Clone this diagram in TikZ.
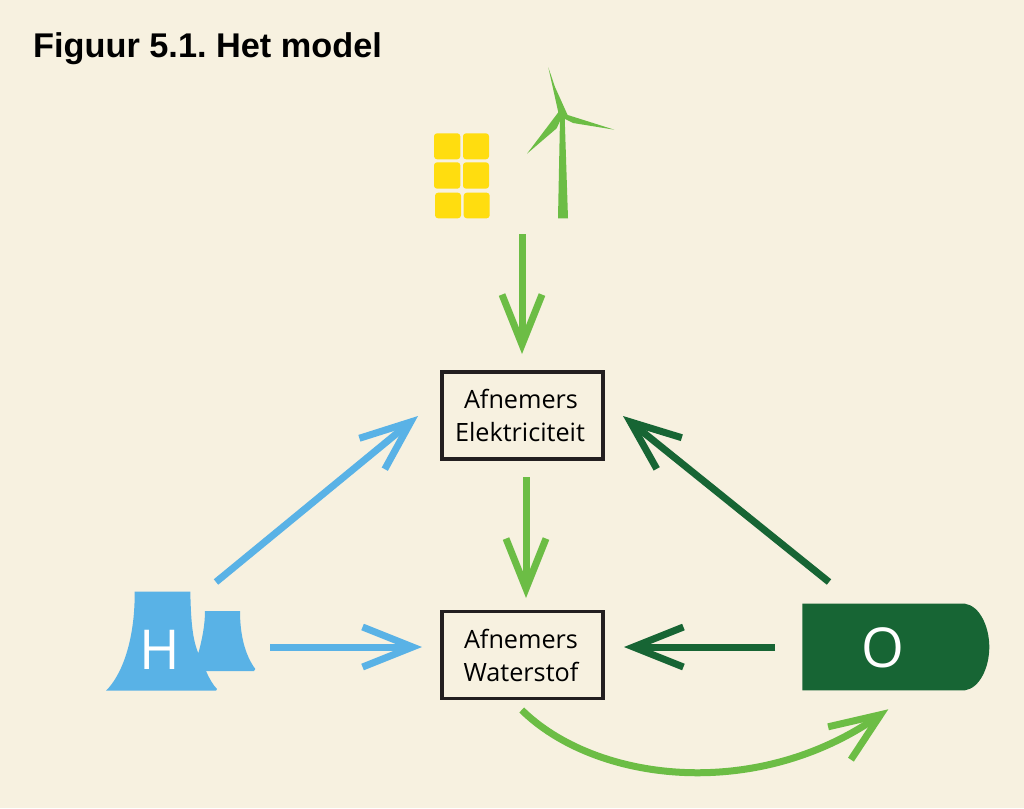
\documentclass[tikz,border=0pt]{standalone}
\usepackage{fontspec}
\setmainfont{Open Sans}
\newfontfamily\titlefont{Liberation Sans}
\usetikzlibrary{arrows.meta}
\definecolor{bgc}{HTML}{F7F1E0}
\definecolor{lgreen}{HTML}{6CBD45}
\definecolor{dgreen}{HTML}{176534}
\definecolor{sky}{HTML}{59B2E6}
\definecolor{sun}{HTML}{FFDD0F}
\definecolor{inkc}{HTML}{231F20}
\tikzset{
  x=1pt,y=-1pt,
  flow/.style={line width=7pt,-{Straight Barb[length=50pt,width=40pt,line width=7pt]}},
  boxn/.style={draw=inkc,line width=3.5pt,minimum width=161pt,minimum height=87pt,inner sep=0pt,align=center,font=\fontsize{25.2}{33}\selectfont,text=black},
  panel/.style={fill=sun,rounded corners=3pt},
  lett/.style={text=white,font=\fontsize{55}{55}\selectfont,inner sep=0pt}
}
\begin{document}
\begin{tikzpicture}
\useasboundingbox[fill=bgc] (0,0) rectangle (1024,808);
\node[anchor=base west,inner sep=0pt,font=\titlefont\bfseries\fontsize{34.3}{35}\selectfont] (title) at (33,57) {\frenchspacing Figuur 5.1. Het model};
% solar panels
\fill[panel] (434,133.3) rectangle (460.3,159.3);
\fill[panel] (463,133.3) rectangle (489,159.3);
\fill[panel] (434,162.3) rectangle (460.3,188.7);
\fill[panel] (463,162.3) rectangle (489,188.7);
\fill[panel] (435,192.7) rectangle (461,218.3);
\fill[panel] (463.7,192.7) rectangle (489.7,218.3);
% wind turbine
\fill[lgreen] (558,218.3) -- (568,218.3) -- (564.7,118) -- (560,118) -- cycle;
\fill[lgreen] (548.3,67.3) -- (558.3,112.3) -- (527,153.7) -- (556.7,128.3) -- (560,121) -- (565,119) -- (573,123) -- (614.3,129.7) -- (567.7,115) -- (566.7,113) -- (555,87) -- cycle;
% cooling towers
\fill[sky] (134.7,591.7) -- (190.3,591.7) .. controls (191,625) and (193,640) .. (198.3,653.3)
  .. controls (202,640) and (205,625) .. (205,611) -- (240,611)
  .. controls (240,635) and (245,655) .. (255.3,669) -- (254,671) -- (206,671)
  .. controls (209,678) and (213,685) .. (217,689) -- (216,690.7) -- (106,690.7)
  .. controls (122,675) and (135,640) .. (134.7,591.7) -- cycle;
\node[lett] (h) at (159.7,650) {H};
% storage
\fill[dgreen] (802.3,603.7) -- (965,603.7) .. controls (980,606) and (989.3,627) .. (989.3,647)
  .. controls (989.3,667) and (980,688) .. (965,690.3) -- (802.3,690.3) -- cycle;
\node[lett] (o) at (883.3,648) {O};
% boxes
\node[boxn] (elek) at (522.5,415.5) {Afnemers\hspace*{3pt}\\Elektriciteit\hspace*{5pt}};
\node[boxn] (water) at (522.5,655) {Afnemers\hspace*{3pt}\\Waterstof\hspace*{3pt}};
% connector ends
\coordinate (a1) at (522,234); \coordinate (a2) at (522,354);
\coordinate (b1) at (526,477); \coordinate (b2) at (526,598);
\coordinate (c1) at (216,582); \coordinate (c2) at (418,416);
\coordinate (d1) at (270,647); \coordinate (d2) at (422,647);
\coordinate (e1) at (829,582); \coordinate (e2) at (623,416);
\coordinate (f1) at (775,647); \coordinate (f2) at (624,647);
\coordinate (g1) at (521.7,710); \coordinate (g2) at (888.3,709.3);
\draw[flow,lgreen] (a1) -- (a2);
\draw[flow,lgreen] (b1) -- (b2);
\draw[flow,sky] (c1) -- (c2);
\draw[flow,sky] (d1) -- (d2);
\draw[flow,dgreen] (e1) -- (e2);
\draw[flow,dgreen] (f1) -- (f2);
\draw[flow,lgreen] (g1) .. controls (595,782) and (755,802) .. (g2);
\end{tikzpicture}
\end{document}
